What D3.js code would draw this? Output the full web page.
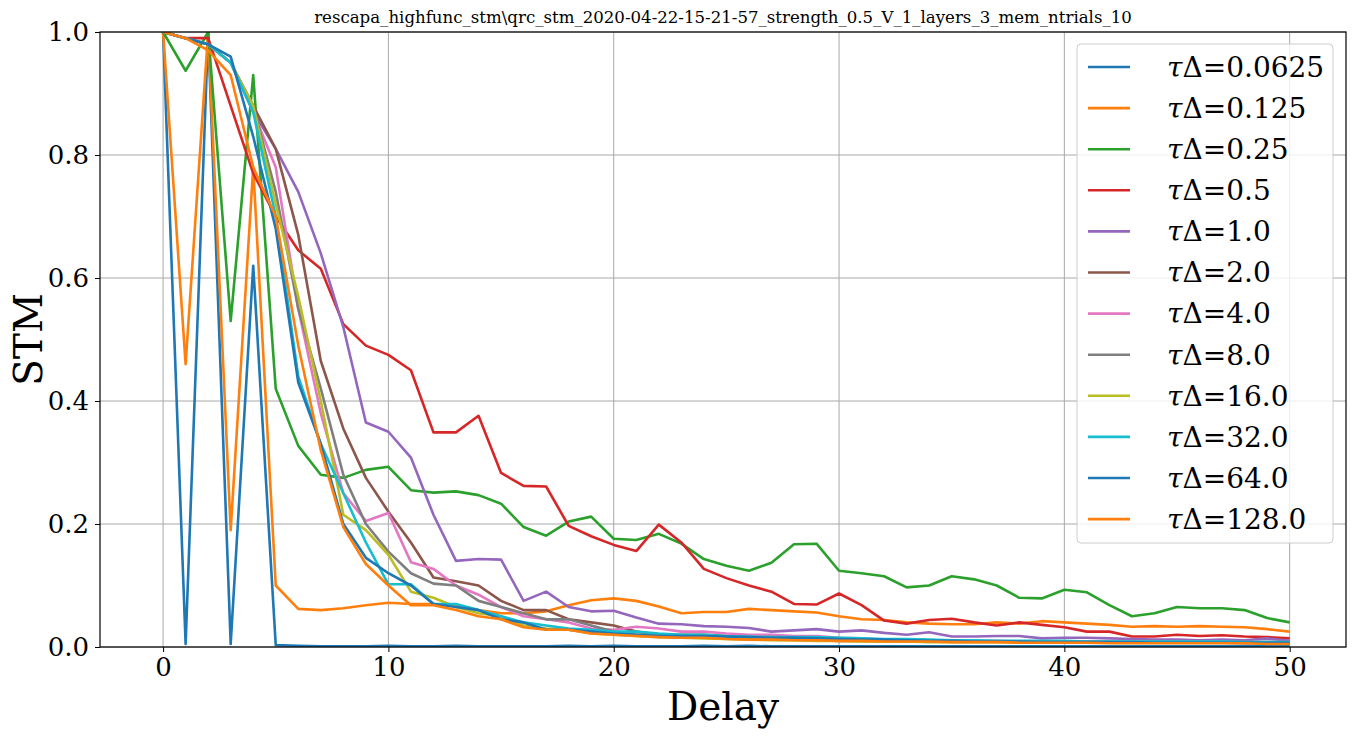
<!DOCTYPE html>
<html><head><meta charset="utf-8">
<script src="https://cdn.jsdelivr.net/npm/d3@7"></script>
<style>body{margin:0;background:#fff}text{font-family:"DejaVu Serif",serif}</style>
</head><body><svg id="c" width="1356" height="737"></svg>
<script>
var delays = d3.range(0, 51);
var labels = ["0.0625","0.125","0.25","0.5","1.0","2.0","4.0","8.0","16.0","32.0","64.0","128.0"];
var colors = ["#1f77b4","#ff7f0e","#2ca02c","#d62728","#9467bd","#8c564b","#e377c2","#7f7f7f","#bcbd22","#17becf","#1f77b4","#ff7f0e"];
var xTicks = [0,10,20,30,40,50];
var yTicks = [0,0.2,0.4,0.6,0.8,1.0];

var s0 = [1,0.005,1.0,0.005,0.62,0.003,0.002,0.001,0.001,0.001,0.002,0.001,0.001,0.002,0.001,0.001,0.001,0.001,0.002,0.001,0.002,0.001,0.001,0.001,0.002,0.001,0.002,0.001,0.001,0.001,0.001,0.001,0.001,0.001,0.001,0.001,0.001,0.001,0.001,0.001,0.001,0.001,0.001,0.001,0.001,0.001,0.001,0.001,0.001,0.001,0.001];
var s1 = [1,0.46,1.0,0.19,0.78,0.10,0.062,0.060,0.063,0.068,0.072,0.070,0.070,0.068,0.060,0.055,0.055,0.058,0.068,0.076,0.079,0.075,0.066,0.055,0.057,0.057,0.062,0.060,0.058,0.056,0.050,0.045,0.044,0.040,0.038,0.037,0.037,0.040,0.038,0.042,0.040,0.038,0.036,0.033,0.034,0.033,0.034,0.033,0.032,0.029,0.025];
var s2 = [1,0.937,1.0,0.53,0.93,0.42,0.327,0.28,0.275,0.288,0.293,0.255,0.251,0.253,0.247,0.233,0.195,0.181,0.204,0.212,0.176,0.174,0.184,0.168,0.143,0.132,0.124,0.137,0.167,0.168,0.124,0.12,0.115,0.097,0.1,0.115,0.11,0.1,0.08,0.079,0.093,0.089,0.068,0.05,0.055,0.065,0.063,0.063,0.06,0.047,0.04];
var s3 = [1,0.99,0.99,0.88,0.77,0.70,0.645,0.615,0.525,0.49,0.475,0.45,0.349,0.349,0.376,0.283,0.262,0.261,0.197,0.18,0.166,0.156,0.199,0.17,0.127,0.112,0.1,0.09,0.07,0.069,0.087,0.068,0.043,0.038,0.044,0.046,0.04,0.035,0.04,0.036,0.032,0.025,0.025,0.017,0.017,0.02,0.018,0.019,0.017,0.016,0.014];
var s4 = [1,0.99,0.98,0.95,0.87,0.81,0.74,0.64,0.52,0.365,0.35,0.308,0.215,0.14,0.143,0.142,0.075,0.09,0.065,0.058,0.059,0.048,0.038,0.037,0.034,0.033,0.031,0.025,0.027,0.029,0.025,0.027,0.023,0.02,0.024,0.017,0.017,0.018,0.018,0.014,0.015,0.015,0.014,0.013,0.012,0.012,0.011,0.012,0.011,0.014,0.01];
var s5 = [1,0.99,0.98,0.95,0.88,0.81,0.67,0.465,0.355,0.275,0.22,0.17,0.113,0.107,0.1,0.075,0.06,0.06,0.045,0.04,0.035,0.025,0.02,0.02,0.02,0.018,0.017,0.015,0.015,0.014,0.013,0.012,0.011,0.01,0.01,0.01,0.009,0.009,0.008,0.008,0.008,0.008,0.008,0.007,0.007,0.007,0.007,0.007,0.006,0.006,0.006];
var s6 = [1,0.99,0.98,0.95,0.87,0.78,0.55,0.38,0.25,0.205,0.218,0.138,0.127,0.1,0.085,0.065,0.05,0.045,0.04,0.03,0.028,0.033,0.03,0.025,0.025,0.022,0.02,0.02,0.018,0.018,0.015,0.014,0.012,0.012,0.011,0.01,0.01,0.01,0.009,0.009,0.009,0.009,0.008,0.008,0.008,0.008,0.008,0.008,0.008,0.008,0.008];
var s7 = [1,0.99,0.98,0.95,0.88,0.74,0.55,0.42,0.28,0.2,0.155,0.12,0.103,0.1,0.075,0.065,0.055,0.045,0.045,0.035,0.025,0.02,0.018,0.015,0.015,0.015,0.013,0.012,0.012,0.011,0.01,0.01,0.01,0.009,0.009,0.009,0.009,0.009,0.008,0.008,0.008,0.008,0.008,0.008,0.008,0.008,0.008,0.008,0.008,0.008,0.008];
var s8 = [1,0.99,0.98,0.95,0.88,0.72,0.57,0.40,0.215,0.19,0.15,0.09,0.08,0.065,0.055,0.05,0.035,0.03,0.028,0.022,0.02,0.018,0.016,0.015,0.014,0.013,0.012,0.011,0.011,0.01,0.01,0.009,0.009,0.009,0.008,0.008,0.008,0.008,0.008,0.007,0.007,0.007,0.007,0.007,0.007,0.007,0.007,0.007,0.007,0.007,0.007];
var s9 = [1,0.99,0.98,0.95,0.87,0.70,0.44,0.33,0.25,0.17,0.102,0.102,0.07,0.07,0.06,0.05,0.04,0.035,0.03,0.028,0.025,0.025,0.022,0.02,0.02,0.018,0.017,0.016,0.016,0.016,0.015,0.014,0.013,0.013,0.012,0.011,0.011,0.01,0.01,0.01,0.01,0.009,0.009,0.009,0.009,0.009,0.009,0.009,0.008,0.008,0.008];
var s10 = [1,0.99,0.98,0.96,0.83,0.68,0.43,0.33,0.20,0.145,0.12,0.10,0.07,0.065,0.06,0.045,0.04,0.028,0.028,0.025,0.022,0.02,0.018,0.018,0.018,0.017,0.016,0.015,0.015,0.014,0.013,0.012,0.012,0.011,0.01,0.01,0.009,0.009,0.009,0.008,0.008,0.008,0.008,0.008,0.007,0.007,0.007,0.007,0.007,0.007,0.007];
var s11 = [1,0.99,0.97,0.93,0.78,0.70,0.49,0.32,0.195,0.135,0.10,0.068,0.068,0.06,0.05,0.045,0.032,0.028,0.028,0.022,0.02,0.018,0.016,0.015,0.015,0.013,0.012,0.012,0.011,0.011,0.01,0.01,0.009,0.009,0.009,0.008,0.008,0.008,0.007,0.007,0.007,0.007,0.006,0.006,0.006,0.006,0.006,0.006,0.006,0.005,0.005];
var series = [s0,s1,s2,s3,s4,s5,s6,s7,s8,s9,s10,s11];

var svg = d3.select("#c");
var L = 100, R = 1346, T = 32, B = 647;
var x = d3.scaleLinear().domain([-2.8, 52.5]).range([L, R]);
var y = d3.scaleLinear().domain([0, 1]).range([B, T]);

// grid
svg.append("g").selectAll("line").data(xTicks).join("line")
  .attr("x1", d => x(d)).attr("x2", d => x(d)).attr("y1", T).attr("y2", B)
  .attr("stroke", "#a8a8a8").attr("stroke-width", 1);
svg.append("g").selectAll("line").data(yTicks).join("line")
  .attr("x1", L).attr("x2", R).attr("y1", d => y(d)).attr("y2", d => y(d))
  .attr("stroke", "#a8a8a8").attr("stroke-width", 1);

var gp = svg.append("g");
gp.append("clipPath").attr("id","clip").append("rect").attr("x",L).attr("y",T).attr("width",R-L).attr("height",B-T);
var line = d3.line().x((d,i) => x(delays[i])).y(d => y(d));
gp.append("g").attr("clip-path","url(#clip)").selectAll("path").data(series).join("path")
  .attr("d", line).attr("fill","none")
  .attr("stroke", (d,i) => colors[i]).attr("stroke-width", 2.6).attr("stroke-linejoin","round");

var xa = svg.append("g").attr("transform","translate(0,"+B+")")
  .call(d3.axisBottom(x).tickValues(xTicks).tickSize(5).tickPadding(6).tickFormat(d3.format("d")));
var ya = svg.append("g").attr("transform","translate("+L+",0)")
  .call(d3.axisLeft(y).tickValues(yTicks).tickSize(5).tickPadding(6).tickFormat(d3.format(".1f")));
[xa, ya].forEach(function(a){
  a.select(".domain").remove();
  a.selectAll("text").attr("font-size", 26).attr("fill","#000").style("font-family","DejaVu Serif");
  a.selectAll("line").attr("stroke","#000");
});
svg.append("rect").attr("x",L).attr("y",T).attr("width",R-L).attr("height",B-T)
  .attr("fill","none").attr("stroke","#000").attr("stroke-width",1.2);

svg.append("text").attr("x",(L+R)/2).attr("y",23).attr("text-anchor","middle").attr("font-size",16.6)
  .text("rescapa_highfunc_stm\\qrc_stm_2020-04-22-15-21-57_strength_0.5_V_1_layers_3_mem_ntrials_10");
svg.append("text").attr("x",(L+R)/2).attr("y",720).attr("text-anchor","middle").attr("font-size",39).text("Delay");
svg.append("text").attr("transform","translate(42,"+((T+B)/2)+") rotate(-90)").attr("text-anchor","middle").attr("font-size",39).text("STM");

// legend
var lg = svg.append("g").attr("transform","translate(1077,44)");
lg.append("rect").attr("width",256).attr("height",499).attr("rx",4)
  .attr("fill","#fff").attr("fill-opacity",0.8).attr("stroke","#ccc");
var it = lg.selectAll("g").data(labels).join("g").attr("transform",(d,i) => "translate(0,"+(23+i*41.1)+")");
it.append("line").attr("x1",11).attr("x2",53).attr("stroke",(d,i) => colors[i]).attr("stroke-width",2.6);
var tx = it.append("text").attr("x",90).attr("dy","0.35em").attr("font-size",28);
tx.append("tspan").attr("font-style","italic").text("τ");
tx.append("tspan").text(d => "Δ=" + d);
</script></body></html>
